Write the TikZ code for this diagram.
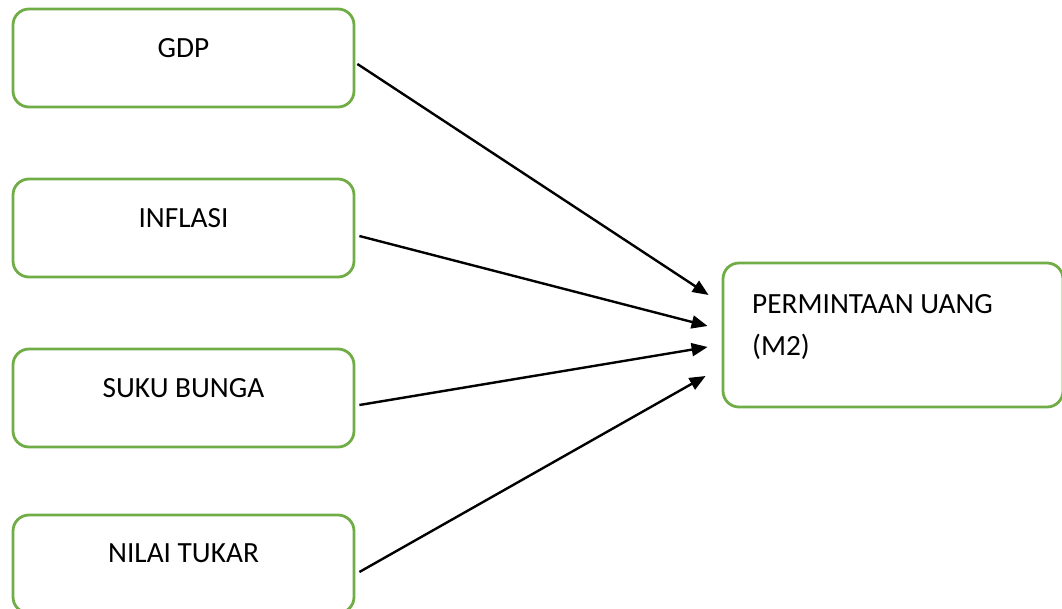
\documentclass[tikz,border=0pt]{standalone}
\usepackage{fontspec}
\setmainfont{Carlito}
\usetikzlibrary{arrows.meta,calc}
\definecolor{boxgreen}{HTML}{70AD47}
\begin{document}
\begin{tikzpicture}[x=1pt,y=-1pt,
  box/.style={draw=boxgreen, line width=2.8pt, rounded corners=16pt, fill=white, inner sep=0pt},
  lbl/.style={font=\fontsize{29.3}{42}\selectfont, inner sep=0pt},
  arr/.style={line width=2.4pt, -{Triangle[length=16pt,width=13pt]}}]
\useasboundingbox (0,0) rectangle (1062,608);
\clip (0,0) rectangle (1062,608);
\node[box, minimum width=341pt, minimum height=98pt] (gdp) at (183.5,58) {};
\node[box, minimum width=341pt, minimum height=98pt] (inf) at (183.5,228) {};
\node[box, minimum width=341pt, minimum height=98pt] (suku) at (183.5,398) {};
\node[box, minimum width=341pt, minimum height=98pt] (nilai) at (183.5,564) {};
\node[box, minimum width=340pt, minimum height=144pt] (m2) at (893,335) {};
\node[lbl, anchor=base] (tgdp) at (183.5,57) {GDP};
\node[lbl, anchor=base] (tinf) at (183.5,227) {INFLASI};
\node[lbl, anchor=base] (tsuku) at (183.5,397) {SUKU BUNGA};
\node[lbl, anchor=base] (tnilai) at (183.5,562) {NILAI TUKAR};
\node[lbl, anchor=base west, align=left] (tm2) at (752,355) {PERMINTAAN UANG\\(M2)};
\draw[arr] ($(gdp.east)+(2,6)$) -- ($(m2.west)+(-13,-40)$);
\draw[arr] ($(inf.east)+(4,8)$) -- ($(m2.west)+(-14,-9)$);
\draw[arr] ($(suku.east)+(4,7)$) -- ($(m2.west)+(-14,12)$);
\draw[arr] ($(nilai.east)+(4,8)$) -- ($(m2.west)+(-16,41)$);
\end{tikzpicture}
\end{document}
